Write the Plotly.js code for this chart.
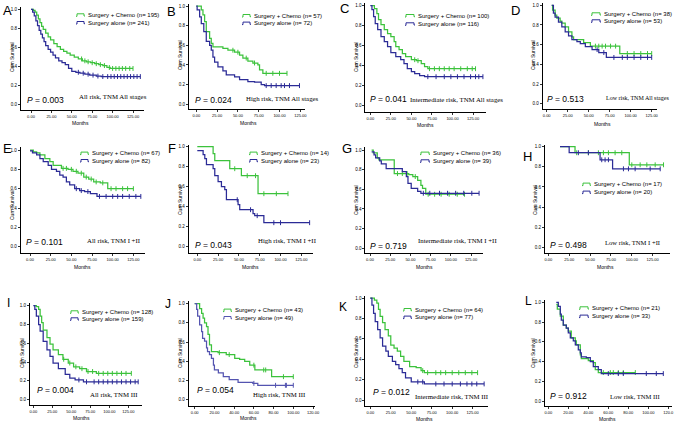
<!DOCTYPE html>
<html><head><meta charset="utf-8">
<script src="https://cdn.plot.ly/plotly-3.0.1.min.js"></script>
<style>html,body{margin:0;padding:0;background:#fff}#chart{width:675px;height:423px}</style>
</head><body><div id="chart"></div>
<script>
// ---------- DATA ----------
const panelLetters = ['A','B','C','D','E','F','G','H','I','J','K','L'];
const subtitles = ['All risk, TNM All stages','High risk, TNM All stages','Intermediate risk, TNM All stages','Low risk, TNM All stages',
  'All risk, TNM I +II','High risk, TNM I +II','Intermediate risk, TNM I +II','Low risk, TNM I +II',
  'All risk, TNM III','High risk, TNM III','Intermediate risk, TNM III','Low risk, TNM III'];
const pValues = ['0.003','0.024','0.041','0.513','0.101','0.043','0.719','0.498','0.004','0.054','0.012','0.912'];
const nChemo = [195,57,100,38,67,14,36,17,128,43,64,21];
const nAlone = [241,72,116,53,82,23,39,20,159,49,77,33];
const seriesNames = ['Surgery + Chemo','Surgery alone'];
const xTicks125 = [0,25,50,75,100,125];
const xTicks120 = [0,20,40,60,80,100,120];
const yTicks = [0,0.2,0.4,0.6,0.8,1.0];

// Panel A
const A_chemo_t = [0,3,5,7,9,11,13,15,18,21,24,28,32,36,40,44,48,53,58,63,68,73,78,83,88,93,97,125];
const A_chemo_s = [1,0.99,0.97,0.94,0.90,0.86,0.82,0.79,0.75,0.71,0.68,0.64,0.61,0.58,0.56,0.54,0.52,0.50,0.48,0.46,0.45,0.44,0.43,0.42,0.41,0.39,0.38,0.38];
const A_chemo_c = [62,66,70,75,80,85,90,96,100,104,108,112,116,121,125];
const A_alone_t = [0,2,4,6,8,10,12,14,16,18,21,24,27,30,34,38,42,46,50,55,60,66,72,80,86,134];
const A_alone_s = [1,0.97,0.93,0.88,0.83,0.78,0.74,0.70,0.66,0.62,0.58,0.55,0.52,0.49,0.46,0.44,0.42,0.38,0.35,0.34,0.33,0.32,0.31,0.30,0.295,0.295];
const A_alone_c = [58,64,70,76,82,88,94,98,102,106,110,114,118,122,126,130,134];
// Panel B
const B_chemo_t = [0,6,8,10,12,16,18,20,32,38,46,52,56,62,68,74,76,80,109];
const B_chemo_s = [1,0.96,0.91,0.84,0.74,0.67,0.62,0.585,0.57,0.55,0.53,0.50,0.47,0.44,0.42,0.40,0.35,0.315,0.315];
const B_chemo_c = [44,50,60,70,84,92,100,109];
const B_alone_t = [0,1,4,6,9,12,16,18,20,22,26,32,36,46,52,62,70,78,82,124];
const B_alone_s = [1,0.96,0.89,0.82,0.74,0.64,0.60,0.55,0.48,0.43,0.38,0.34,0.30,0.28,0.25,0.23,0.225,0.20,0.19,0.19];
const B_alone_c = [84,90,96,102,106,112,124];
// Panel C
const C_chemo_t = [2,5,8,10,13,17,21,25,29,31,35,39,43,50,56,62,66,70,128];
const C_chemo_s = [1,0.97,0.92,0.86,0.81,0.76,0.72,0.69,0.64,0.59,0.56,0.52,0.49,0.46,0.45,0.42,0.39,0.37,0.37];
const C_chemo_c = [54,58,72,78,84,90,96,102,110,118,124,128];
const C_alone_t = [0,2,4,6,9,13,17,21,25,31,37,41,45,50,54,60,66,137];
const C_alone_s = [1,0.96,0.89,0.82,0.76,0.69,0.64,0.59,0.53,0.49,0.46,0.42,0.37,0.34,0.32,0.30,0.29,0.29];
const C_alone_c = [70,80,90,98,106,114,122,128,132,137];
// Panel D
const D_chemo_t = [6,7,10,12,16,18,22,26,30,32,44,52,87,125];
const D_chemo_s = [1,0.95,0.90,0.87,0.84,0.82,0.78,0.73,0.68,0.65,0.62,0.585,0.51,0.51];
const D_chemo_c = [58,62,66,70,76,82,96,104,112,120,125];
const D_alone_t = [6,8,10,14,18,22,26,30,36,40,46,54,62,71,125];
const D_alone_s = [1,0.92,0.88,0.83,0.78,0.73,0.69,0.65,0.63,0.61,0.58,0.55,0.52,0.47,0.47];
const D_alone_c = [60,68,80,90,96,104,112,120,125];
// Panel E
const E_chemo_t = [0,4,8,12,18,24,28,38,46,52,58,65,71,77,85,94,125];
const E_chemo_s = [1,0.98,0.97,0.95,0.91,0.88,0.84,0.81,0.80,0.78,0.76,0.72,0.70,0.67,0.66,0.60,0.60];
const E_chemo_c = [40,44,50,56,62,68,74,80,88,98,104,112,118,125];
const E_alone_t = [0,3,8,12,16,22,26,32,36,40,44,48,54,60,66,73,81,134];
const E_alone_s = [0.99,0.97,0.95,0.91,0.88,0.84,0.80,0.78,0.74,0.72,0.67,0.64,0.60,0.58,0.57,0.55,0.52,0.52];
const E_alone_c = [56,62,70,84,92,100,106,112,120,128,134];
// Panel F
const F_chemo_t = [0,19,21,39,53,73,109];
const F_chemo_s = [1,0.93,0.86,0.78,0.71,0.53,0.53];
const F_chemo_c = [45,60,70,80,95,109];
const F_alone_t = [0,7,9,11,19,21,25,29,33,35,49,51,67,69,80,135];
const F_alone_s = [0.96,0.92,0.88,0.82,0.78,0.71,0.65,0.60,0.57,0.47,0.42,0.37,0.33,0.31,0.24,0.24];
const F_alone_c = [48,64,72,92,100,135];
// Panel G
const G_chemo_t = [2,4,9,11,30,48,53,59,63,65,69,117];
const G_chemo_s = [1,0.97,0.92,0.90,0.76,0.75,0.73,0.69,0.64,0.61,0.55,0.55];
const G_chemo_c = [34,40,46,56,72,80,88,98,108,117];
const G_alone_t = [2,5,7,12,14,20,40,45,47,51,59,63,135];
const G_alone_s = [0.98,0.95,0.92,0.89,0.86,0.81,0.78,0.73,0.66,0.61,0.58,0.56,0.56];
const G_alone_c = [66,74,86,96,106,116,126,135];
// Panel H
const H_chemo_t = [14,32,97,138];
const H_chemo_s = [1,0.94,0.82,0.82];
const H_chemo_c = [34,48,60,66,72,80,88,100,110,118,128,138];
const H_alone_t = [14,25,62,77,134];
const H_alone_s = [1,0.94,0.87,0.78,0.78];
const H_alone_c = [36,48,64,68,72,90,96,104,122,134];
// Panel I
const I_chemo_t = [1,4,7,9,11,13,18,22,26,33,39,46,53,61,70,83,129];
const I_chemo_s = [1,0.99,0.96,0.89,0.82,0.74,0.66,0.59,0.53,0.48,0.43,0.39,0.35,0.33,0.30,0.28,0.28];
const I_chemo_c = [40,48,56,64,72,78,86,92,98,104,110,116,122,129];
const I_alone_t = [0,2,4,7,9,13,18,22,26,33,42,48,55,66,138];
const I_alone_s = [1,0.96,0.89,0.80,0.73,0.62,0.53,0.46,0.39,0.33,0.27,0.23,0.21,0.19,0.19];
const I_alone_c = [60,70,80,86,92,98,104,110,116,122,128,134,138];
// Panel J
const J_chemo_t = [0,5,7,8.5,10,12,13.5,15,17,23.7,32,40.6,45.6,50.7,55.8,61,78,100];
const J_chemo_s = [1,0.95,0.90,0.85,0.80,0.76,0.68,0.57,0.50,0.49,0.47,0.43,0.42,0.40,0.36,0.31,0.24,0.24];
const J_chemo_c = [25,35,60,70,72,90,100];
const J_alone_t = [0,2,3,5,7,8,10,12,13,15,17,19,20,24,29,35,44,59,64,100];
const J_alone_s = [1,0.94,0.87,0.78,0.71,0.64,0.61,0.54,0.50,0.47,0.43,0.36,0.31,0.28,0.24,0.21,0.18,0.17,0.15,0.15];
const J_alone_c = [60,82,92,93,100];
// Panel K
const K_chemo_t = [0,5,8,10,12,15,18,22,25,29,33,37,41,48,56,62,66,131];
const K_chemo_s = [1,0.98,0.95,0.89,0.82,0.76,0.69,0.63,0.54,0.51,0.48,0.43,0.38,0.33,0.32,0.29,0.27,0.27];
const K_chemo_c = [64,70,80,86,92,100,108,116,124,131];
const K_alone_t = [0,2,4,6,9,12,15,19,22,27,31,35,39,43,50,66,139];
const K_alone_s = [1,0.93,0.85,0.77,0.69,0.61,0.53,0.48,0.43,0.38,0.35,0.31,0.27,0.22,0.18,0.16,0.16];
const K_alone_c = [58,64,80,90,100,110,118,124,130,139];
// Panel L
const L_chemo_t = [8,9,12,15,18,20,23,27,28,32,33,40,45,47,50,87];
const L_chemo_s = [0.98,0.93,0.86,0.77,0.74,0.71,0.64,0.61,0.57,0.47,0.43,0.41,0.39,0.32,0.29,0.29];
const L_chemo_c = [55,62,65,70,75,87];
const L_alone_t = [8,10,12,13,15,18,20,22,25,27,30,32,33,38,42,45,50,53,115];
const L_alone_s = [1,0.96,0.88,0.82,0.77,0.74,0.69,0.64,0.61,0.57,0.52,0.49,0.45,0.44,0.40,0.35,0.32,0.28,0.28];
const L_alone_c = [60,70,75,98,108,115];

const chemoT = [A_chemo_t,B_chemo_t,C_chemo_t,D_chemo_t,E_chemo_t,F_chemo_t,G_chemo_t,H_chemo_t,I_chemo_t,J_chemo_t,K_chemo_t,L_chemo_t];
const chemoS = [A_chemo_s,B_chemo_s,C_chemo_s,D_chemo_s,E_chemo_s,F_chemo_s,G_chemo_s,H_chemo_s,I_chemo_s,J_chemo_s,K_chemo_s,L_chemo_s];
const chemoC = [A_chemo_c,B_chemo_c,C_chemo_c,D_chemo_c,E_chemo_c,F_chemo_c,G_chemo_c,H_chemo_c,I_chemo_c,J_chemo_c,K_chemo_c,L_chemo_c];
const aloneT = [A_alone_t,B_alone_t,C_alone_t,D_alone_t,E_alone_t,F_alone_t,G_alone_t,H_alone_t,I_alone_t,J_alone_t,K_alone_t,L_alone_t];
const aloneS = [A_alone_s,B_alone_s,C_alone_s,D_alone_s,E_alone_s,F_alone_s,G_alone_s,H_alone_s,I_alone_s,J_alone_s,K_alone_s,L_alone_s];
const aloneC = [A_alone_c,B_alone_c,C_alone_c,D_alone_c,E_alone_c,F_alone_c,G_alone_c,H_alone_c,I_alone_c,J_alone_c,K_alone_c,L_alone_c];

// ---------- LAYOUT GEOMETRY (pixels) ----------
const W = 675, H = 423;
// left,right (axis line px), p0 (px of month 0), k (px per month), yt,yb (axis px), y1,y0 (px of 1.0 and 0.0)
const geo = [
  [21,144,31,0.816, 7,110,9.3,104.7],
  [189,305,196.3,0.832, 4,109.3,6,104.3],
  [365.3,486,370.3,0.822, 3,111.7,5.7,105.7],
  [542.7,656.7,546.7,0.84, 3,109.3,5.3,103.7],
  [20.7,145,30,0.827, 147,252.7,150,246.7],
  [188.7,313,197.3,0.832, 145,252.7,146.7,246.7],
  [365.3,482.7,370,0.808, 147,253.3,150,248.3],
  [545,670,548.3,0.835, 145,252.7,146.7,247.3],
  [30,141.7,33.3,0.76, 303,405.3,305.7,399.7],
  [188.7,314.7,194.7,0.986, 301,405.7,303.7,399.7],
  [365.3,487.7,370.3,0.819, 296,406.3,298,400.3],
  [545,671.7,548.3,1.0, 300,406.3,302.3,401.3]
];
const letterPos = [[7,10],[171,11],[344,8],[515,10],[7,148],[172,149],[347,148],[527,156],[8,303],[168,304],[343,307],[528,301]];
const cumPos = [[12,57],[180,55],[356,57],[533,55],[12,205],[180,200],[356,200],[535,200],[22,353],[180,353],[356,353],[533,353]];
const monthsPos = [[80,122.7],[248,123],[426,125],[602,124],[82,266.7],[250,266.7],[424,266.7],[605,266.7],[81,418],[248,418],[424,419],[607,419]];
const pPos = [[25,100],[193,100],[368,99],[545,99],[24,242],[193,245],[368,246],[548,245],[35,390],[195,390],[371,392],[548,396]];
const subPos = [[77,96.7],[244,98.7],[408,99],[604,98],[85,240],[256,240],[416,240],[603,242],[88,394],[251,394],[413,396],[608,396]];
const subSize = [6.8,6.8,6.8,6.0,6.8,6.8,6.8,6.6,6.8,6.8,6.8,6.6];
// legend: icon x0, x1, text x, y green, y blue
const legPos = [[76,85,86,15,22.7],[242,251,252,15.7,23.3],[405,415,416,15.7,24],[591,601,602,14,21],
  [80,89,90,153.3,160.7],[249,258,259,153.3,160.7],[420,430,431,153.3,161],[582,591,592,184.3,192.3],
  [70,79,80,312,319],[223,232,233,310.3,317.7],[403,412,413,309.7,317.3],[579,589,590,308,316.3]];

const GREEN = '#3cc23c', BLUE = '#2b2b96', BLUE_J = '#5454b0';
const px = x => x / W, py = y => 1 - y / H;

function survAt(t, s, c) {
  let v = s[0];
  for (let i = 0; i < t.length; i++) { if (t[i] <= c) v = s[i]; }
  return v;
}

const traces = [];
const layout = {
  width: W, height: H, margin: {l:0, r:0, t:0, b:0},
  paper_bgcolor: '#fff', plot_bgcolor: 'rgba(0,0,0,0)', showlegend: false,
  font: {family: 'Liberation Sans, Arial, sans-serif', color: '#000'},
  annotations: [], shapes: []
};

for (let i = 0; i < 12; i++) {
  const g = geo[i];
  const [left, right, p0, k, yt, yb, y1, y0] = g;
  const sx = i === 0 ? '' : String(i + 1);
  const xa = 'x' + sx, ya = 'y' + sx;
  const v = y => (y0 - y) / (y0 - y1);
  const is120 = (i === 9 || i === 11);
  const xt = is120 ? xTicks120 : xTicks125;
  const xtt = xt.map(d => (i === 11 && d === 120) ? '120.0' : d.toFixed(2));
  layout['xaxis' + sx] = {
    domain: [px(left), px(right)], range: [(left - p0) / k, (right - p0) / k],
    anchor: ya, showline: true, linecolor: '#000', linewidth: 1, showgrid: false, zeroline: false,
    ticks: 'outside', ticklen: 2, tickwidth: 0.8, tickcolor: '#000', tickvals: xt, ticktext: xtt,
    tickfont: {size: 4, family: 'Liberation Sans, Arial'}, fixedrange: true
  };
  layout['yaxis' + sx] = {
    domain: [py(yb), py(yt)], range: [v(yb), v(yt)],
    anchor: xa, showline: true, linecolor: '#000', linewidth: 1, showgrid: false, zeroline: false,
    ticks: 'outside', ticklen: 2, tickwidth: 0.8, tickcolor: '#000', tickvals: yTicks, ticktext: yTicks.map(d => d.toFixed(1)),
    tickfont: {size: 4.5, family: 'Liberation Sans, Arial'}, fixedrange: true
  };
  const blue = i === 9 ? BLUE_J : BLUE;
  const series = [[chemoT[i], chemoS[i], chemoC[i], GREEN, seriesNames[0]], [aloneT[i], aloneS[i], aloneC[i], blue, seriesNames[1]]];
  series.forEach(([t, s, c, col, nm]) => {
    traces.push({x: t, y: s, xaxis: xa, yaxis: ya, type: 'scatter', mode: 'lines', name: nm,
      line: {shape: 'hv', color: col, width: 1.25}, hoverinfo: 'skip'});
    traces.push({x: c, y: c.map(cc => survAt(t, s, cc)), xaxis: xa, yaxis: ya, type: 'scatter', mode: 'markers', name: nm + ' censored',
      marker: {symbol: 'line-ns', size: 3.5, line: {color: col, width: 1}}, hoverinfo: 'skip', cliponaxis: false});
  });

  const A = layout.annotations;
  A.push({xref:'paper', yref:'paper', x: px(letterPos[i][0]), y: py(letterPos[i][1]), text: panelLetters[i], showarrow:false,
    font:{size: i >= 8 ? 12 : 13, family:'Liberation Sans, Arial'}, xanchor:'center', yanchor:'middle'});
  A.push({xref:'paper', yref:'paper', x: px(cumPos[i][0]), y: py(cumPos[i][1]), text:'Cum Survival', textangle:-90, showarrow:false,
    font:{size:5}, xanchor:'center', yanchor:'middle'});
  A.push({xref:'paper', yref:'paper', x: px(monthsPos[i][0]), y: py(monthsPos[i][1]), text:'Months', showarrow:false,
    font:{size:5}, xanchor:'center', yanchor:'middle'});
  A.push({xref:'paper', yref:'paper', x: px(pPos[i][0]), y: py(pPos[i][1]), text:'<i>P</i> = ' + pValues[i], showarrow:false,
    font:{size:8.5}, xanchor:'left', yanchor:'middle'});
  A.push({xref:'paper', yref:'paper', x: px(subPos[i][0]), y: py(subPos[i][1]), text: subtitles[i], showarrow:false,
    font:{size:subSize[i], family:'Liberation Serif, Times New Roman, serif'}, xanchor:'left', yanchor:'middle'});
  const lp = legPos[i];
  [[lp[3], GREEN, seriesNames[0] + ' (n= ' + nChemo[i] + ')'], [lp[4], blue, seriesNames[1] + ' (n= ' + nAlone[i] + ')']].forEach(([yy, col, txt]) => {
    A.push({xref:'paper', yref:'paper', x: px(lp[2]), y: py(yy), text: txt, showarrow:false,
      font:{size:6}, xanchor:'left', yanchor:'middle'});
    const x0 = lp[0], x1 = lp[1];
    const path = 'M' + px(x0) + ',' + py(yy + 1.3) + ' L' + px(x0 + 1) + ',' + py(yy + 1.3) + ' L' + px(x0 + 1) + ',' + py(yy - 1.2) +
      ' L' + px(x1 - 1) + ',' + py(yy - 1.2) + ' L' + px(x1 - 1) + ',' + py(yy + 1) + ' L' + px(x1) + ',' + py(yy + 1);
    layout.shapes.push({type:'path', xref:'paper', yref:'paper', path: path, line:{color: col, width: 1}});
  });
}

Plotly.newPlot('chart', traces, layout, {staticPlot: true, displayModeBar: false});
</script></body></html>
